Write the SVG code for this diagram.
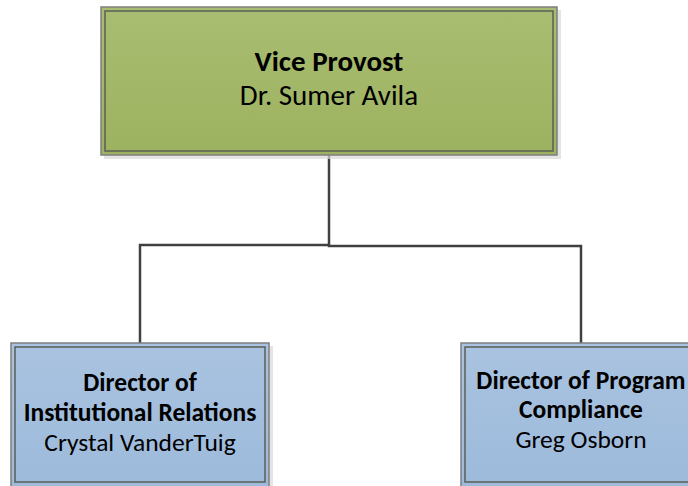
<svg xmlns="http://www.w3.org/2000/svg" width="688" height="486" viewBox="0 0 688 486">
<defs>
<linearGradient id="gG" x1="0" y1="0" x2="0" y2="1"><stop offset="0" stop-color="#a9bd72"/><stop offset="1" stop-color="#9db25f"/></linearGradient>
<linearGradient id="gB" x1="0" y1="0" x2="0" y2="1"><stop offset="0" stop-color="#a9c3e0"/><stop offset="1" stop-color="#9dbadb"/></linearGradient>
</defs>
<style>
.sh{fill:#d9d9d9;opacity:0.7}
.outer{stroke:#7f7f7f;stroke-width:1.5}
.inner{fill:none;stroke:#5a5f55;stroke-width:1.5}
.t{font-family:Carlito,Lato,"Liberation Sans",sans-serif;text-anchor:middle;fill:#000}
.b{font-weight:bold}
.con{fill:none;stroke:#404040;stroke-width:2.5}
</style>
<g id="connectors">
<polyline class="con" points="329,155 329,245 140,245 140,343"/>
<polyline class="con" points="329,245 329,246 581,246 581,343"/>
</g>
<g id="vice-provost">
<rect class="sh" x="104" y="10" width="457" height="149"/>
<rect class="outer" x="101" y="7" width="456" height="148" fill="url(#gG)"/>
<rect class="inner" x="105" y="11" width="448" height="140"/>
<text class="t b" x="329" y="71" font-size="29">Vice Provost</text>
<text class="t" x="329" y="105" font-size="29">Dr. Sumer Avila</text>
</g>
<g id="director-ir">
<rect class="sh" x="14" y="346" width="259" height="145"/>
<rect class="outer" x="11" y="343" width="258" height="150" fill="url(#gB)"/>
<rect class="inner" x="15" y="347" width="250" height="135"/>
<text class="t b" x="140" y="391" font-size="25.5">Director of</text>
<text class="t b" x="140" y="421" font-size="25.5">Institutional Relations</text>
<text class="t" x="140" y="451" font-size="25.5">Crystal VanderTuig</text>
</g>
<g id="director-pc">
<rect class="sh" x="464" y="346" width="230" height="145"/>
<rect class="outer" x="461" y="343" width="240" height="150" fill="url(#gB)"/>
<rect class="inner" x="465" y="347" width="240" height="135"/>
<text class="t b" x="581" y="389" font-size="25.5">Director of Program</text>
<text class="t b" x="581" y="418" font-size="25.5">Compliance</text>
<text class="t" x="581" y="448" font-size="25.5">Greg Osborn</text>
</g>
</svg>
